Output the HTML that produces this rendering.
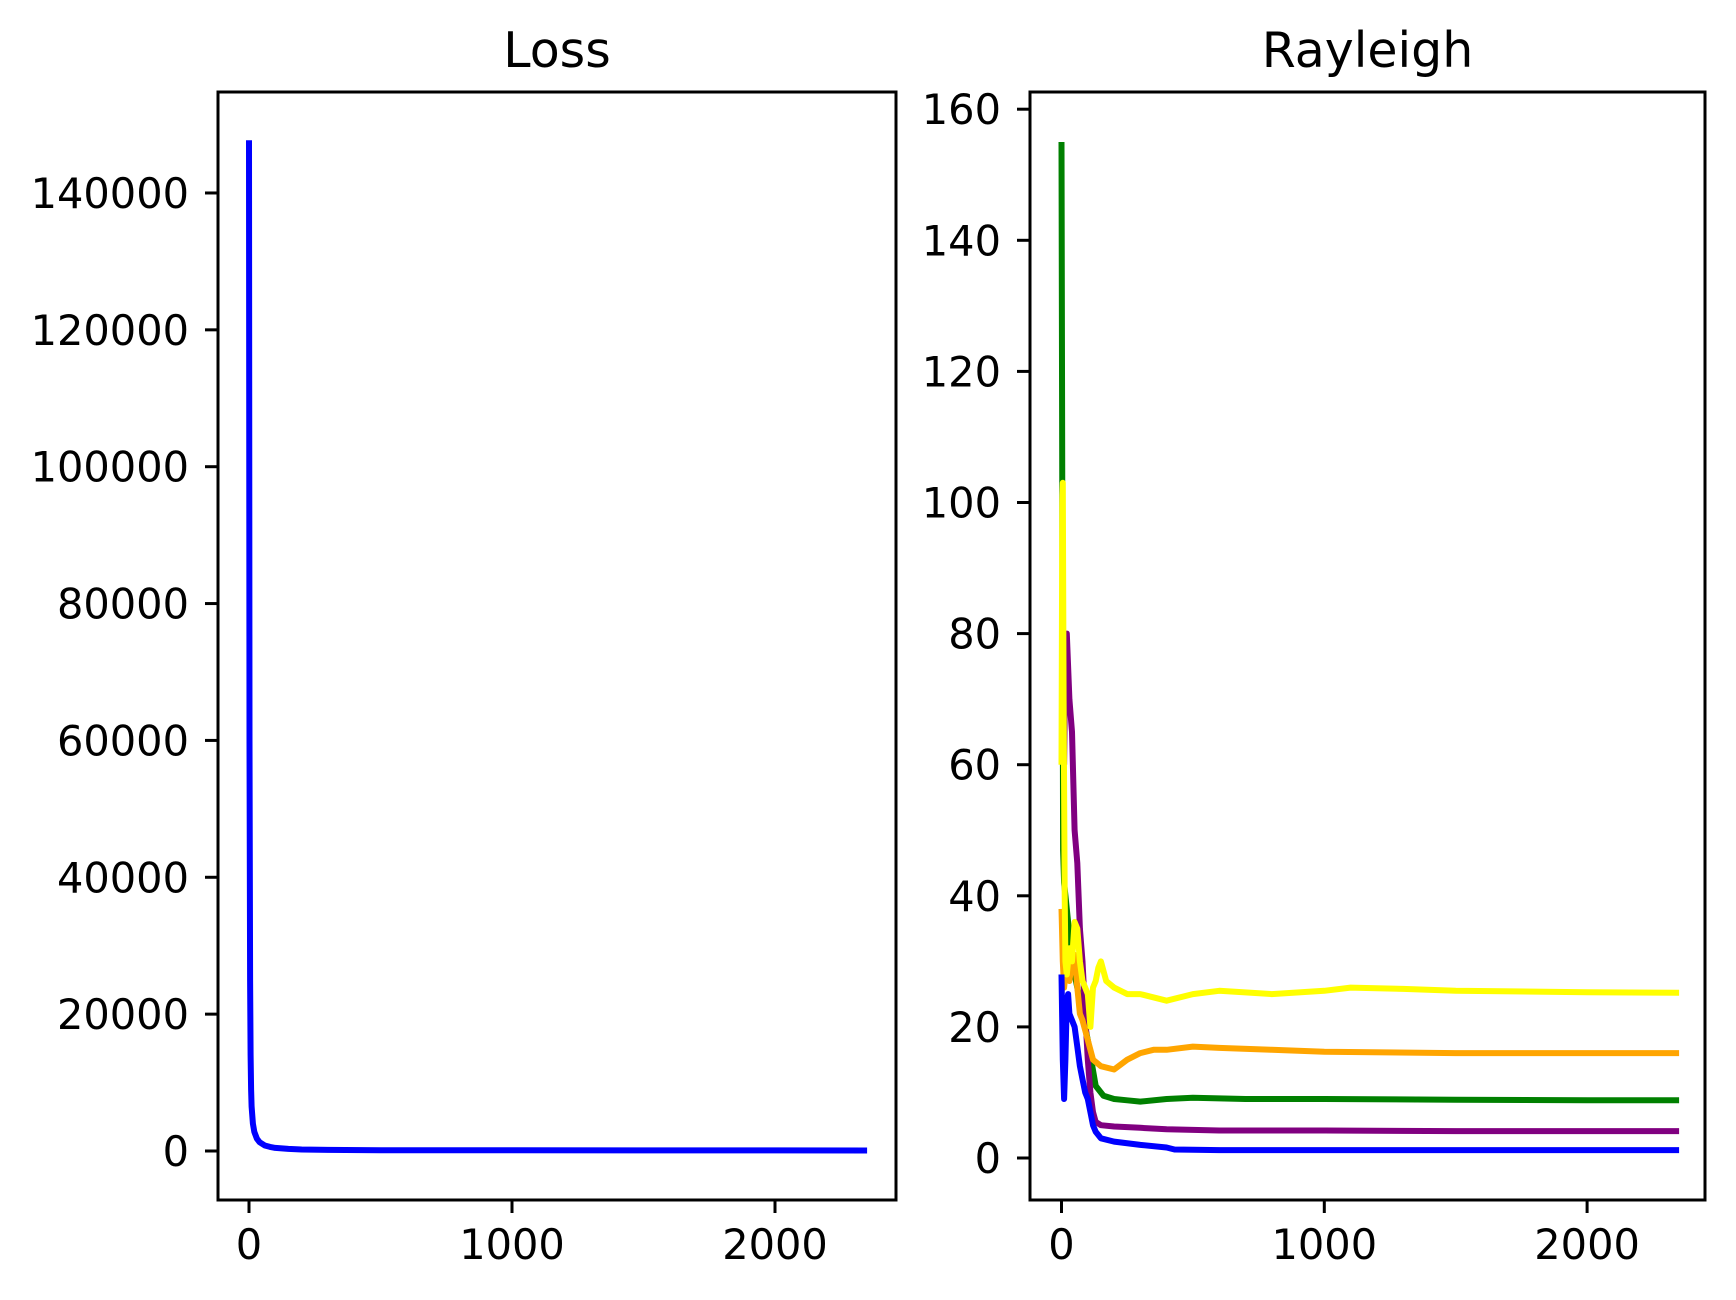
<!DOCTYPE html>
<html><head><meta charset="utf-8"><style>
html,body{margin:0;padding:0;background:#fff;}
svg{display:block;font-family:"DejaVu Sans","Liberation Sans",sans-serif;}
</style></head><body>
<svg id="fig" width="1736" height="1300" viewBox="0 0 1736 1300"></svg>
<script>
const lossX=[0,2,4,6,8,10,15,20,30,40,60,80,100,150,200,300,500,1000,1500,2000,2350];
const lossY=[147700,60000,25000,14000,9000,6500,4000,2800,1800,1300,800,600,450,300,220,160,120,100,90,85,80];
const lossYTicks=[0,20000,40000,60000,80000,100000,120000,140000];
const xTicks=[0,1000,2000];
const rayYTicks=[0,20,40,60,80,100,120,140,160];
const greenX=[0,3,6,10,20,30,40,60,80,100,130,160,200,250,300,400,500,700,1000,1500,2000,2350];
const greenY=[155,100,47,42,38,34,30,26,22,18,11,9.5,9,8.8,8.6,9,9.2,9,9,8.9,8.8,8.8];
const purpleX=[10,15,20,30,40,50,60,70,80,90,100,110,120,130,150,200,300,400,600,1000,1500,2000,2350];
const purpleY=[60,78,80,70,65,50,45,35,30,22,15,10,7,5.5,5,4.8,4.6,4.4,4.2,4.2,4.1,4.1,4.1];
const yellowX=[0,3,5,8,12,15,20,30,40,50,60,70,80,90,100,110,120,130,140,150,170,200,250,300,400,500,600,800,1000,1100,1300,1500,2000,2350];
const yellowY=[60,100,103,70,40,30,28,32,30,36,35,30,27,26,25,20,26,27,29,30,27,26,25,25,24,25,25.5,25,25.5,26,25.8,25.5,25.3,25.2];
const orangeX=[0,5,10,15,20,30,40,50,60,70,80,100,120,150,200,250,300,350,400,500,600,800,1000,1500,2000,2350];
const orangeY=[38,30,26,28,29,27,30,31,26,22,21,18,15,14,13.5,15,16,16.5,16.5,17,16.8,16.5,16.2,16,16,16];
const blueX=[0,5,10,15,20,25,30,40,50,60,70,80,90,100,110,120,130,150,200,300,400,430,600,1000,1500,2000,2350];
const blueY=[28,15,9,15,24,25,22,21,20,17,14,12,10,9,7,5,4,3,2.5,2,1.6,1.3,1.2,1.2,1.2,1.2,1.2];

const svg=document.getElementById('fig');
const NS='http://www.w3.org/2000/svg';
function mk(tag,attrs,parent){const e=document.createElementNS(NS,tag);for(const k in attrs)e.setAttribute(k,attrs[k]);(parent||svg).appendChild(e);return e;}

const L={x0:218,x1:896,y0:92,y1:1200};
const lx=v=>249+v*0.263;
const ly=v=>1151-v*0.006843;
const R={x0:1030,x1:1705,y0:92,y1:1200};
const rx=v=>1061.5+v*0.2628;
const ry=v=>1158-v*6.555;

function drawAxes(A,xf,yf,xt,yt,title,nm){
  const g=mk('g',{});
  
  
  yt.forEach(v=>{
    const y=yf(v);
    const t=mk('line',{x1:A.x0-13,x2:A.x0,y1:y,y2:y,stroke:'#000','stroke-width':3},g);
    
    
    const tx=mk('text',{x:A.x0-29,y:y+15,'text-anchor':'end','font-size':41.5,fill:'#000'},g);
    
    
    tx.textContent=String(v);
  });
  xt.forEach(v=>{
    const x=xf(v);
    const t=mk('line',{x1:x,x2:x,y1:A.y1,y2:A.y1+13,stroke:'#000','stroke-width':3},g);
    
    
    const tx=mk('text',{x:x,y:A.y1+59,'text-anchor':'middle','font-size':41.5,fill:'#000'},g);
    
    
    tx.textContent=String(v);
  });
  const ti=mk('text',{x:(A.x0+A.x1)/2,y:67,'text-anchor':'middle','font-size':49,fill:'#000'},g);
  
  
  ti.textContent=title;
  return g;
}
function frame(A,nm){
  const r=mk('rect',{x:A.x0,y:A.y0,width:A.x1-A.x0,height:A.y1-A.y0,fill:'none',stroke:'#000','stroke-width':3});
  
  
}
function series(xs,ys,xf,yf,color,nm){
  const d=xs.map((v,i)=>(i?'L':'M')+xf(v).toFixed(1)+' '+yf(ys[i]).toFixed(1)).join(' ');
  const p=mk('path',{d:d,fill:'none',stroke:color,'stroke-width':6,'stroke-linejoin':'round'});
  
  
}
drawAxes(L,lx,ly,xTicks,lossYTicks,'Loss','loss');
series(lossX,lossY,lx,ly,'#0000ff','loss-line');
frame(L,'loss');
drawAxes(R,rx,ry,xTicks,rayYTicks,'Rayleigh','rayleigh');
series(greenX,greenY,rx,ry,'#008000','rayleigh-green-line');
series(purpleX,purpleY,rx,ry,'#800080','rayleigh-purple-line');
series(orangeX,orangeY,rx,ry,'#ffa500','rayleigh-orange-line');
series(yellowX,yellowY,rx,ry,'#ffff00','rayleigh-yellow-line');
series(blueX,blueY,rx,ry,'#0000ff','rayleigh-blue-line');
frame(R,'rayleigh');
</script>
</body></html>
